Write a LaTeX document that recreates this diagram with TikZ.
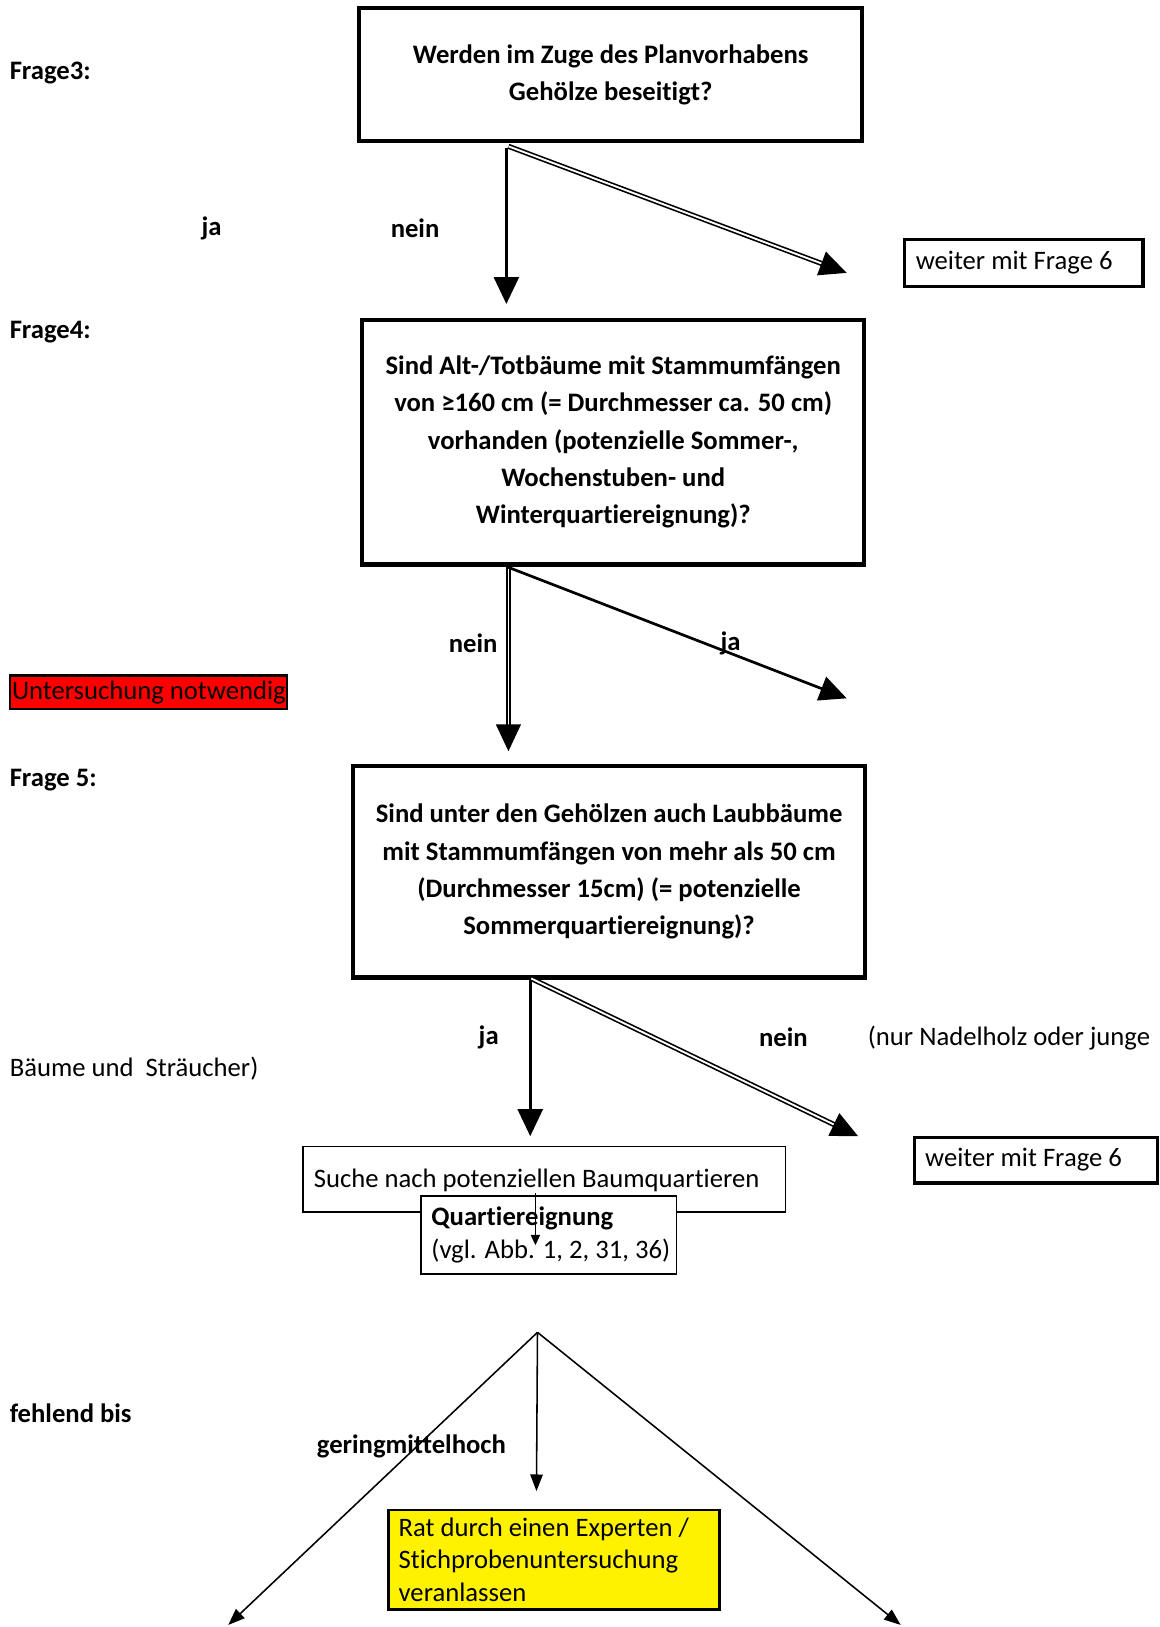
\documentclass[tikz,border=0pt]{standalone}
\usepackage{fontspec}
\setmainfont{Carlito}[Ligatures=NoCommon]
\usetikzlibrary{arrows.meta}
\begin{document}
\begin{tikzpicture}[x=0.5pt,y=-0.5pt,
  every node/.style={font=\fontsize{12.85}{18}\selectfont, inner sep=0pt},
  qbox/.style={draw, line width=2pt, align=center, font=\fontsize{12.85}{18}\selectfont\bfseries},
  lbl/.style={font=\fontsize{12.85}{16}\selectfont\bfseries},
  txt/.style={font=\fontsize{12.85}{16}\selectfont},
  wbox/.style={draw, line width=1.6pt, anchor=west, align=flush left, font=\fontsize{12.85}{16}\selectfont},
  onearrow/.style={line width=1.3pt, -{Triangle[length=13pt,width=12pt]}},
  dbl/.style={double, line width=0.8pt, double distance=0.9pt, -{Triangle[length=13pt,width=12pt]}},
  thinarrow/.style={line width=0.75pt, -{Triangle[length=8pt,width=6pt]}},
  tinyarrow/.style={line width=0.6pt, -{Triangle[length=5pt,width=4.5pt]}},
]
\useasboundingbox (0,0) rectangle (1117,1568);

% Frage 3
\node[lbl, anchor=west] (f3) at (9,70) {Frage3:};
\node[qbox, minimum width=242.5pt, minimum height=64pt] (q3) at (588.5,72) {Werden im Zuge des Planvorhabens\\Gehölze beseitigt?};
\node[lbl] (ja1) at (204,220) {ja};
\node[lbl] (nein1) at (400,220) {nein};
\node[wbox, text width=104pt, inner xsep=5.5pt, minimum height=22.5pt] (w1) at (870,253.5) {\mbox{weiter mit Frage 6}};

% Frage 4
\node[lbl, anchor=west] (f4) at (9,320) {Frage4:};
\node[qbox, minimum width=242pt, minimum height=118pt] (q4) at (591,426) {Sind Alt-/Totbäume mit Stammumfängen\\von ≥160 cm (= Durchmesser ca. 50 cm)\\vorhanden (potenzielle Sommer-,\\Wochenstuben- und\\Winterquartiereignung)?};
\node[lbl] (nein2) at (456,620) {nein};
\node[lbl] (ja2) at (704,620) {ja};
\node[draw, line width=1pt, fill=red, anchor=west, minimum width=133.5pt, minimum height=16pt, font=\fontsize{12.85}{16}\selectfont] (unt) at (9,667) {Untersuchung notwendig};

% Frage 5
\node[lbl, anchor=west] (f5) at (9,752) {Frage 5:};
\node[qbox, minimum width=247pt, minimum height=102pt] (q5) at (587,840) {Sind unter den Gehölzen auch Laubbäume\\mit Stammumfängen von mehr als 50 cm\\(Durchmesser 15cm) (= potenzielle\\Sommerquartiereignung)?};
\node[lbl] (ja3) at (471,1000) {ja};
\node[lbl] (nein3) at (755,1000) {nein};
\node[txt, anchor=west] (nur) at (836,1000) {(nur Nadelholz oder junge};
\node[txt, anchor=west] (baeume) at (9,1030) {Bäume und\ \ Sträucher)};
\node[wbox, text width=107pt, inner xsep=5pt, minimum height=22pt] (w2) at (880,1118) {\mbox{weiter mit Frage 6}};

% Suche / Quartiereignung
\node[draw, line width=0.8pt, minimum width=232.5pt, minimum height=31.5pt] (suche) at (524.5,1136.5) {};
\node[draw, line width=0.8pt, fill=white, anchor=north west, align=flush left, text width=113pt, inner xsep=5pt, minimum height=37.5pt, font=\fontsize{12.85}{16}\selectfont] (quart) at (405,1152) {\mbox{\textbf{Quartiereignung}}\\\mbox{(vgl. Abb. 1, 2, 31, 36)}};
\node[txt, anchor=west] (suchetxt) at (302,1138) {Suche nach potenziellen Baumquartieren};

% bottom
\node[lbl, anchor=west] (fb) at (9,1362) {fehlend bis};
\node[lbl, anchor=west] (gmh) at (305,1394) {geringmittelhoch};
\node[draw, line width=1.2pt, fill=yellow, anchor=north west, align=flush left, text width=149.5pt, inner xsep=5pt, minimum height=48pt, font=\fontsize{12.85}{15.75}\selectfont] (rat) at (373,1454) {\mbox{Rat durch einen Experten /}\\\mbox{Stichprobenuntersuchung}\\\mbox{veranlassen}};

% coordinates
\coordinate (a1s) at (488,143); \coordinate (a1e) at (488,293);
\coordinate (a2s) at (490,141); \coordinate (a2e) at (816,263);
\coordinate (a3s) at (490,547); \coordinate (a3e) at (490,724);
\coordinate (a4s) at (488,546); \coordinate (a4e) at (816,673);
\coordinate (a5s) at (511,944); \coordinate (a5e) at (511,1095);
\coordinate (a6s) at (512,943); \coordinate (a6e) at (827,1095);
\coordinate (a7s) at (516,1150); \coordinate (a7e) at (516,1200);
\coordinate (apex) at (518,1284);
\coordinate (tl) at (220,1566);
\coordinate (tc) at (517,1437);
\coordinate (tr) at (868,1566);

% connectors
\draw[onearrow] (a1s) -- (a1e);
\draw[dbl] (a2s) -- (a2e);
\draw[dbl] (a3s) -- (a3e);
\draw[onearrow] (a4s) -- (a4e);
\draw[onearrow] (a5s) -- (a5e);
\draw[dbl] (a6s) -- (a6e);
\draw[tinyarrow] (a7s) -- (a7e);
\draw[thinarrow] (apex) -- (tl);
\draw[thinarrow] (apex) -- (tc);
\draw[thinarrow] (apex) -- (tr);
\end{tikzpicture}
\end{document}
